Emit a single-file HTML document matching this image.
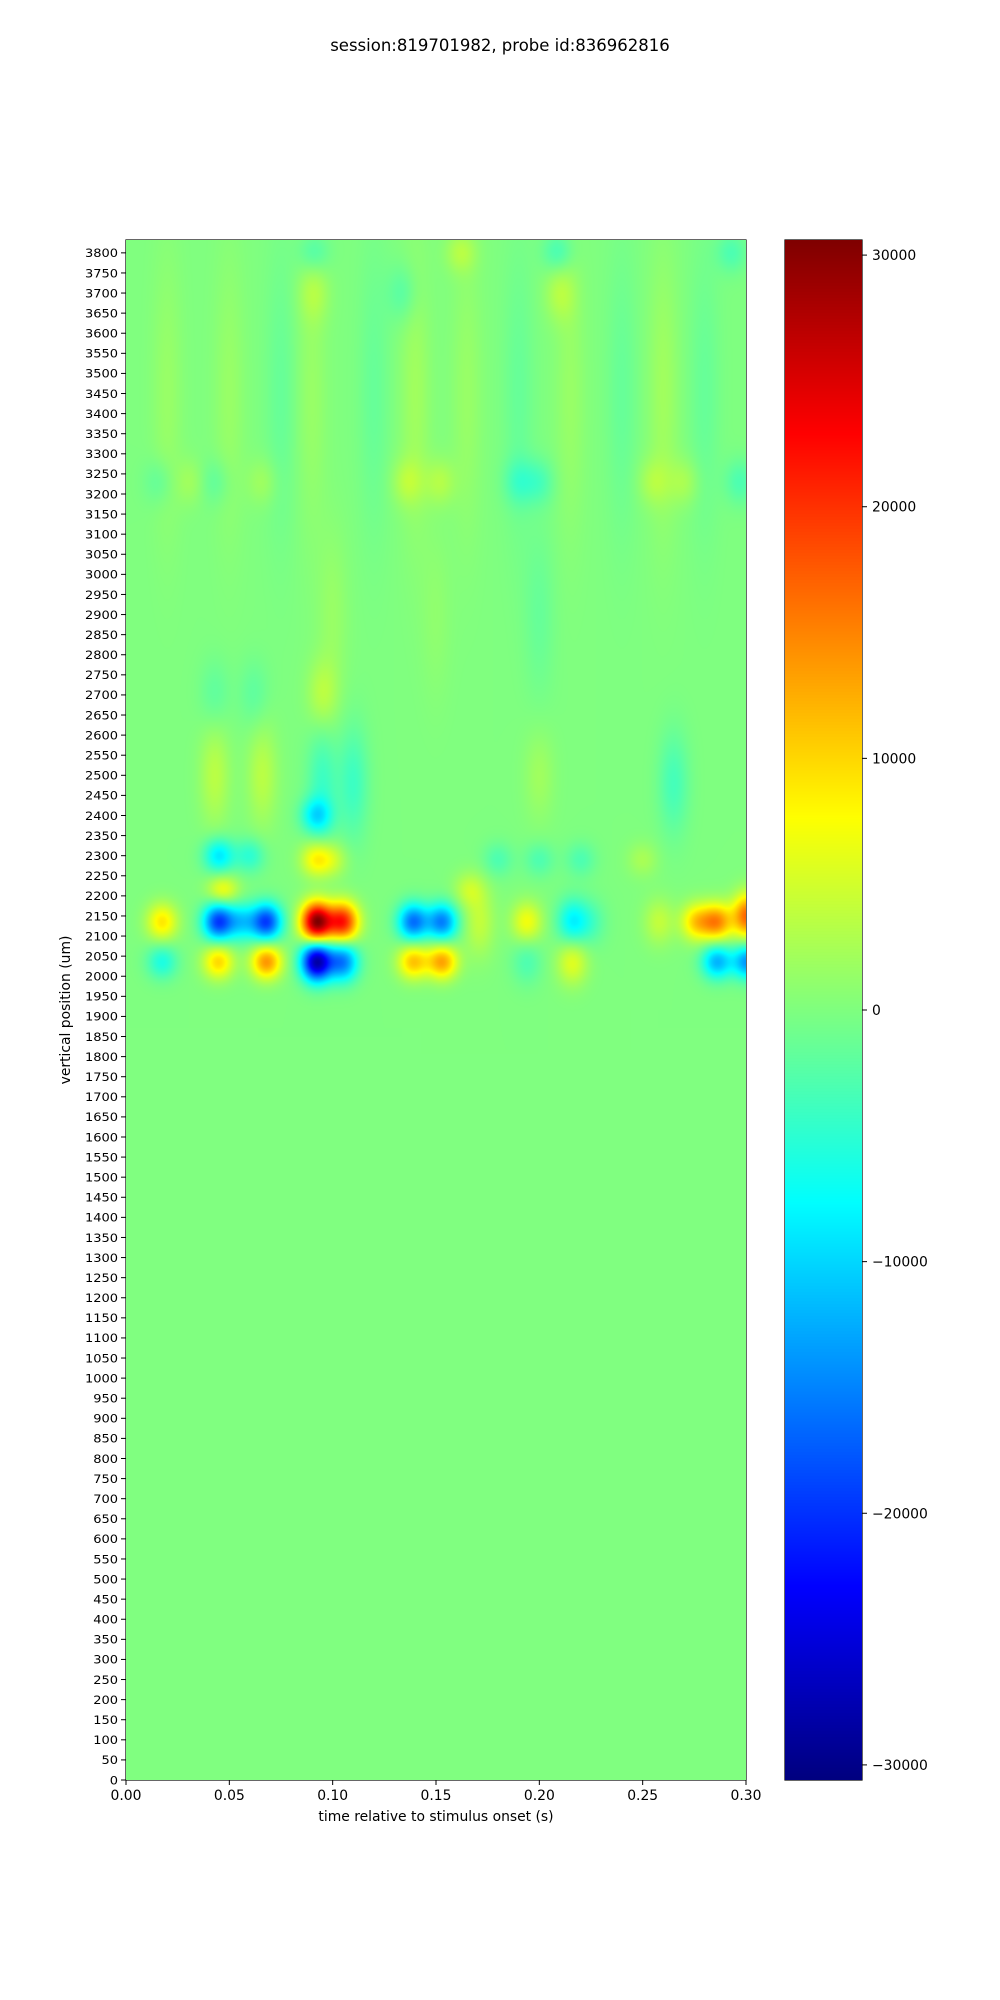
<!DOCTYPE html>
<html><head><meta charset="utf-8">
<style>
html,body{margin:0;padding:0;background:#fff;}
#fig{position:relative;width:1000px;height:2000px;overflow:hidden;font-family:"DejaVu Sans","Liberation Sans",sans-serif;color:#000;}
.t{position:absolute;white-space:nowrap;}
</style></head>
<body>
<div id="fig">
<div class="t" style="left:0;width:1000px;text-align:center;top:36px;font-size:16.5px;">session:819701982, probe id:836962816</div>
<svg id="svg" width="1000" height="2000" style="position:absolute;left:0;top:0"></svg>
<canvas id="heat" width="620" height="1540" style="position:absolute;left:126px;top:240px"></canvas>
<canvas id="cbar" width="77" height="1540" style="position:absolute;left:785px;top:240px"></canvas>
</div>
<script>
// ---- data ----
const xTickValues = [0.00,0.05,0.10,0.15,0.20,0.25,0.30];
const yTickStep = 50;
const yTickMax = 3800;
const cbarTicks = [30000,20000,10000,0,-10000,-20000,-30000];
const blobTime  = [0.0175,0.0447,0.056,0.068,0.0923,0.105,0.139,0.153,0.171,0.194,0.216,0.225,0.258,0.276,0.286,0.301,
                   0.0175,0.0447,0.068,0.0923,0.105,0.139,0.153,0.216,0.194,0.286,0.301,
                   0.047,0.166,
                   0.045,0.060,0.092,0.100,0.18,0.20,0.22,0.25,
                   0.092,
                   0.043,0.066,0.095,0.110,0.20,0.265,
                   0.095,0.043,0.062,
                   0.016,0.031,0.043,0.066,0.136,0.152,0.19,0.20,0.255,0.27,0.297,
                   0.091,0.134,0.21,
                   0.091,0.162,0.209,0.293,
                   0.02,0.05,0.075,0.09,0.12,0.14,0.165,0.19,0.215,0.24,0.26,0.28,
                   0.10,0.15,0.20];
const blobDepth = [2135,2135,2135,2135,2135,2135,2135,2135,2135,2135,2135,2135,2135,2135,2135,2150,
                   2036,2036,2036,2036,2036,2036,2036,2036,2036,2036,2036,
                   2215,2215,
                   2300,2300,2290,2290,2290,2290,2290,2290,
                   2400,
                   2500,2500,2480,2480,2500,2480,
                   2700,2700,2700,
                   3230,3230,3230,3230,3230,3230,3230,3230,3230,3230,3230,
                   3700,3700,3700,
                   3800,3800,3800,3800,
                   3450,3450,3450,3450,3450,3450,3450,3450,3450,3450,3450,3450,
                   2900,2900,2900];
const blobValue = [9000,-19000,-9000,-19000,30000,21000,-16000,-15000,4000,7000,-8000,-3000,4000,10000,14000,17000,
                   -6000,10000,14000,-28000,-15000,11000,13000,6000,-3000,-12000,-14000,
                   7000,4000,
                   -9000,-5000,8000,4000,-3000,-3000,-3000,2500,
                   -8000,
                   3500,3500,-4000,-4000,2000,-3500,
                   3500,-2000,-2000,
                   -2000,2000,-2000,2000,3000,3000,-3000,-3000,2500,2500,-3000,
                   2500,-2500,3000,
                   -3000,3000,-3500,-3000,
                   1500,1500,-1500,1500,-1500,2000,1500,-1500,1500,-1500,2000,-1500,
                   1500,1000,-1500];
const blobSpreadUm = [32,32,32,32,34,34,32,32,60,35,40,40,40,32,32,38,
                   30,30,30,34,34,30,30,40,40,30,30,
                   25,30,
                   30,30,30,30,30,30,30,30,
                   30,
                   90,90,100,100,80,90,
                   60,60,60,
                   40,40,40,40,40,40,40,40,40,40,40,
                   50,50,50,
                   35,35,35,35,
                   250,250,250,250,250,250,250,250,250,250,250,250,
                   150,150,150];
const T0=0, T1=0.30, D0=0, D1=3832, VMIN=-30600, VMAX=30600;

// ---- geometry ----
const L=126, R=746, TOP=240, BOT=1780;
const xs = t => L + (t-T0)/(T1-T0)*(R-L);
const ys = d => BOT - (d-D0)/(D1-D0)*(BOT-TOP);
const CL=785, CR=862;
const cy = v => BOT - (v-VMIN)/(VMAX-VMIN)*(BOT-TOP);

function jet(v){
  function c(x){return Math.max(0,Math.min(1,x));}
  const r=c(Math.min(4*v-1.5,-4*v+4.5)), g=c(Math.min(4*v-0.5,-4*v+3.5)), b=c(Math.min(4*v+0.5,-4*v+2.5));
  return [r*255,g*255,b*255];
}

const hc=document.getElementById('heat'), hx=hc.getContext('2d');
const W=620,H=1540, img=hx.createImageData(W,H);
const sigT=0.0052;
for(let py=0;py<H;py++){
  const d = D1 - (py+0.5)/H*(D1-D0);
  const rowW=[];
  for(let k=0;k<blobTime.length;k++){const dd=(d-blobDepth[k])/blobSpreadUm[k]; rowW.push(dd*dd<30?Math.exp(-0.5*dd*dd)*blobValue[k]:0);}
  for(let px=0;px<W;px++){
    const t = T0+(px+0.5)/W*(T1-T0);
    let v=0;
    for(let k=0;k<blobTime.length;k++){ if(!rowW[k])continue; const dt=(t-blobTime[k])/sigT; if(dt*dt<30) v+=rowW[k]*Math.exp(-0.5*dt*dt);}
    const c=jet((v-VMIN)/(VMAX-VMIN)); const i=(py*W+px)*4;
    img.data[i]=c[0];img.data[i+1]=c[1];img.data[i+2]=c[2];img.data[i+3]=255;
  }
}
hx.putImageData(img,0,0);

const cc=document.getElementById('cbar'), cx=cc.getContext('2d');
for(let py=0;py<1540;py++){const c=jet(1-(py+0.5)/1540);cx.fillStyle=`rgb(${c[0]|0},${c[1]|0},${c[2]|0})`;cx.fillRect(0,py,77,1);}

const svg=document.getElementById('svg'), NS='http://www.w3.org/2000/svg';
function el(tag,attrs,parent){const e=document.createElementNS(NS,tag);for(const k in attrs)e.setAttribute(k,attrs[k]);(parent||svg).appendChild(e);return e;}
const gx=el('g',{});  
xTickValues.forEach(v=>{
  const x=xs(v);
  const ln=el('line',{x1:x,x2:x,y1:BOT,y2:BOT+5,stroke:'#000','stroke-width':1},gx);
  
  
  const tx=el('text',{x:x,y:BOT+20,'text-anchor':'middle','font-size':'13.9px','font-family':'DejaVu Sans, sans-serif'},gx);
  
  
  tx.textContent=v.toFixed(2);
});
const xl=el('text',{x:(L+R)/2,y:1821,'text-anchor':'middle','font-size':'13.9px','font-family':'DejaVu Sans, sans-serif'});


xl.textContent='time relative to stimulus onset (s)';
const gy=el('g',{});  
for(let v=0;v<=yTickMax;v+=yTickStep){
  const y=ys(v);
  const ln=el('line',{x1:L-5,x2:L,y1:y,y2:y,stroke:'#000','stroke-width':1},gy);
  
  
  const tx=el('text',{x:0,y:0,'text-anchor':'end','font-size':'13px','font-family':'DejaVu Sans, sans-serif',transform:`translate(${L-8},${y+4.3}) scale(1,0.86)`},gy);
  
  
  tx.textContent=String(v);
}
const yl=el('text',{x:0,y:0,'text-anchor':'middle','font-size':'13.9px','font-family':'DejaVu Sans, sans-serif',transform:`translate(70,${(TOP+BOT)/2}) rotate(-90)`});


yl.textContent='vertical position (um)';
const fr=el('rect',{x:L,y:TOP,width:R-L,height:BOT-TOP,fill:'none',stroke:'#000','stroke-width':1.2});


const cf=el('rect',{x:CL,y:TOP,width:CR-CL,height:BOT-TOP,fill:'none',stroke:'#000','stroke-width':1.2});


cbarTicks.forEach(v=>{
  const y=cy(v);
  const ln=el('line',{x1:CR,x2:CR+5,y1:y,y2:y,stroke:'#000','stroke-width':1});
  
  
  const tx=el('text',{x:CR+10,y:y+5,'font-size':'13.9px','font-family':'DejaVu Sans, sans-serif'});
  
  
  tx.textContent=(v<0?'\u2212':'')+Math.abs(v);
});
</script>
</body></html>
